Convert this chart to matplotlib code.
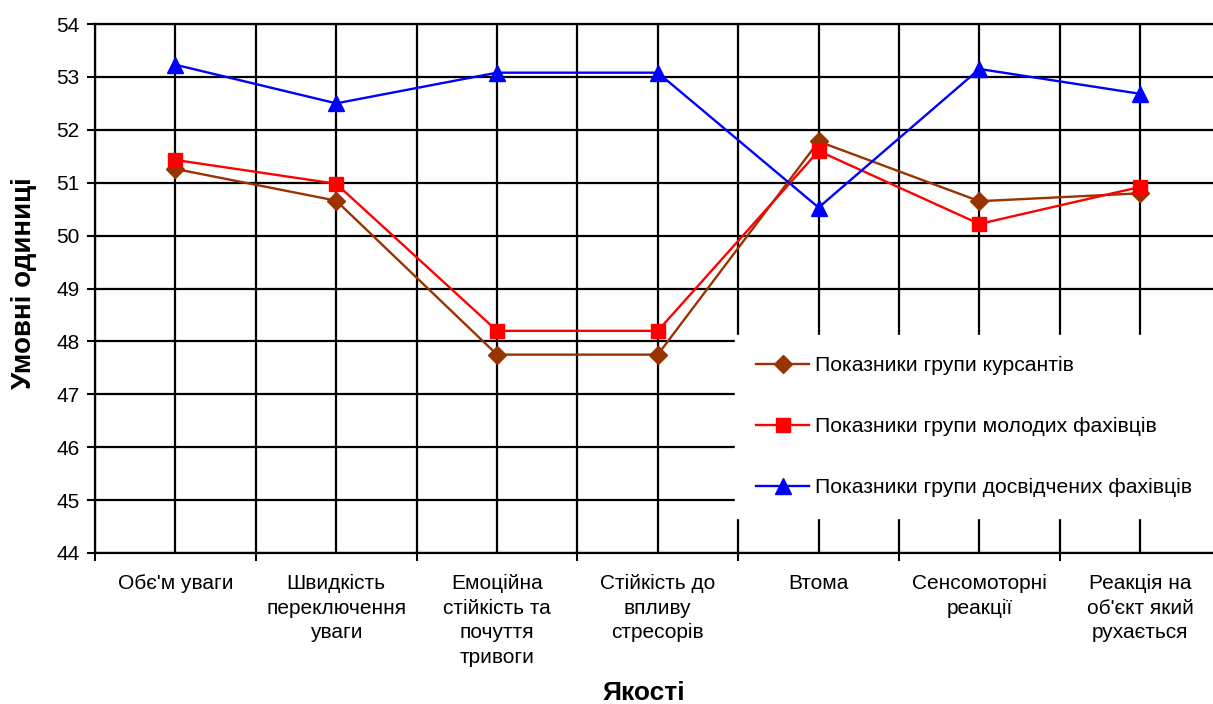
import matplotlib.pyplot as plt
import numpy as np

plt.rcParams['font.family'] = ['Liberation Sans', 'DejaVu Sans']

categories = [
    "Обє'м уваги",
    "Швидкість\nпереключення\nуваги",
    "Емоційна\nстійкість та\nпочуття\nтривоги",
    "Стійкість до\nвпливу\nстресорів",
    "Втома",
    "Сенсомоторні\nреакції",
    "Реакція на\nоб'єкт який\nрухається",
]

cadets = [51.26, 50.66, 47.75, 47.75, 51.78, 50.65, 50.8]
young = [51.43, 50.98, 48.2, 48.2, 51.6, 50.22, 50.92]
experienced = [53.23, 52.5, 53.08, 53.08, 50.53, 53.15, 52.68]

series_labels = [
    'Показники групи курсантів',
    'Показники групи молодих фахівців',
    'Показники групи досвідчених фахівців',
]
y_ticks = list(range(44, 55))

W, H = 1213, 704
fig = plt.figure(figsize=(W / 100, H / 100), dpi=100)
# plot area runs a little past the right edge of the figure
ax = fig.add_axes([95 / W, (H - 553) / H, 1125.6 / W, 529 / H])

x = np.arange(len(categories))
ax.plot(x, cadets, color='#993300', lw=1.7, marker='D', ms=9,
        label=series_labels[0], zorder=3)
ax.plot(x, young, color='#FF0000', lw=1.7, marker='s', ms=10,
        label=series_labels[1], zorder=4)
ax.plot(x, experienced, color='#0000FF', lw=1.7, marker='^', ms=11,
        label=series_labels[2], zorder=5)

ax.set_xlim(-0.5, len(categories) - 0.5)
ax.set_ylim(44, 54)
ax.set_yticks(y_ticks)

# boundaries carry the ticks, centres carry the labels
ax.set_xticks(np.arange(-0.5, len(categories), 1.0))
ax.set_xticklabels([])
ax.set_xticks(x, minor=True)
ax.set_xticklabels(categories, minor=True, fontsize=15, linespacing=1.38)
ax.tick_params(axis='x', which='minor', length=0, pad=15)
ax.tick_params(axis='x', which='major', length=6, width=1.5, direction='out')
ax.tick_params(axis='y', length=6, width=1.5, direction='out', pad=5,
               labelsize=15)

ax.grid(True, axis='x', which='both', color='black', lw=1.6)
ax.grid(True, axis='y', which='major', color='black', lw=1.6)
ax.set_axisbelow(True)

for side in ['left', 'bottom', 'top']:
    ax.spines[side].set_linewidth(1.6)
ax.spines['right'].set_visible(False)

leg = ax.legend(loc='upper left', bbox_to_anchor=(735 / W, 1 - 335 / H),
                bbox_transform=fig.transFigure, fontsize=15.2, frameon=True,
                fancybox=False, framealpha=1, edgecolor='white',
                borderpad=1.0, labelspacing=1.98, handlelength=2.5,
                handletextpad=0.3, borderaxespad=0)
leg.set_zorder(10)

fig.text(24 / W, 1 - 283 / H, 'Умовні одиниці', rotation=90, ha='center',
         va='center', fontsize=20, fontweight='bold')
fig.text(644 / W, 1 - 693 / H, 'Якості', ha='center', va='center',
         fontsize=19, fontweight='bold')

fig.savefig('out.png', dpi=100)
